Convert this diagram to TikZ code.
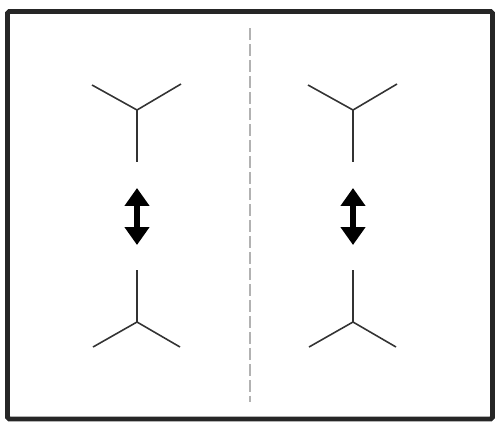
\documentclass[tikz,border=0pt]{standalone}
\usepackage{tikz}
\usetikzlibrary{arrows.meta}

\begin{document}
\begin{tikzpicture}[x=0.02cm, y=-0.02cm]
	\tikzstyle{frame}=[draw=black!85, line width=2.8pt, rounded corners=1pt]
	\tikzstyle{divider}=[draw=black!30, line width=0.8pt, dash pattern=on 6.8pt off 2.3pt]
	\tikzstyle{branch}=[draw=black!80, line width=0.9pt]
	\tikzstyle{flip}=[draw=black, line width=3.4pt, {Triangle[width=13.6pt, length=10.2pt]}-{Triangle[width=13.6pt, length=10.2pt]}]

	\useasboundingbox (0,0) rectangle (496,424);
	\draw[frame] (7.5,11.5) rectangle (492.5,419);

	% Dashed line between the two panels
	\coordinate (D-top) at (250,28);
	\coordinate (D-bot) at (250,402);
	\draw[divider] (D-top) -- (D-bot);

	% Draw the two panels, name is L or R and \x is the middle of the panel
	\foreach \name/\x in {L/137, R/353} {
		% upper Y
		\coordinate (\name-uj) at (\x,110);
		\coordinate (\name-ul) at (\x-45,85);
		\coordinate (\name-ur) at (\x+44,84);
		\coordinate (\name-us) at (\x,162);
		\draw[branch] (\name-ul) -- (\name-uj) -- (\name-ur);
		\draw[branch] (\name-uj) -- (\name-us);

		% lower Y
		\coordinate (\name-lj) at (\x,322);
		\coordinate (\name-ll) at (\x-44,347);
		\coordinate (\name-lr) at (\x+43,347);
		\coordinate (\name-ls) at (\x,270);
		\draw[branch] (\name-ll) -- (\name-lj) -- (\name-lr);
		\draw[branch] (\name-lj) -- (\name-ls);

		% arrow between them
		\coordinate (\name-at) at (\x,188);
		\coordinate (\name-ab) at (\x,245);
		\draw[flip] (\name-at) -- (\name-ab);
	}
\end{tikzpicture}
\end{document}
